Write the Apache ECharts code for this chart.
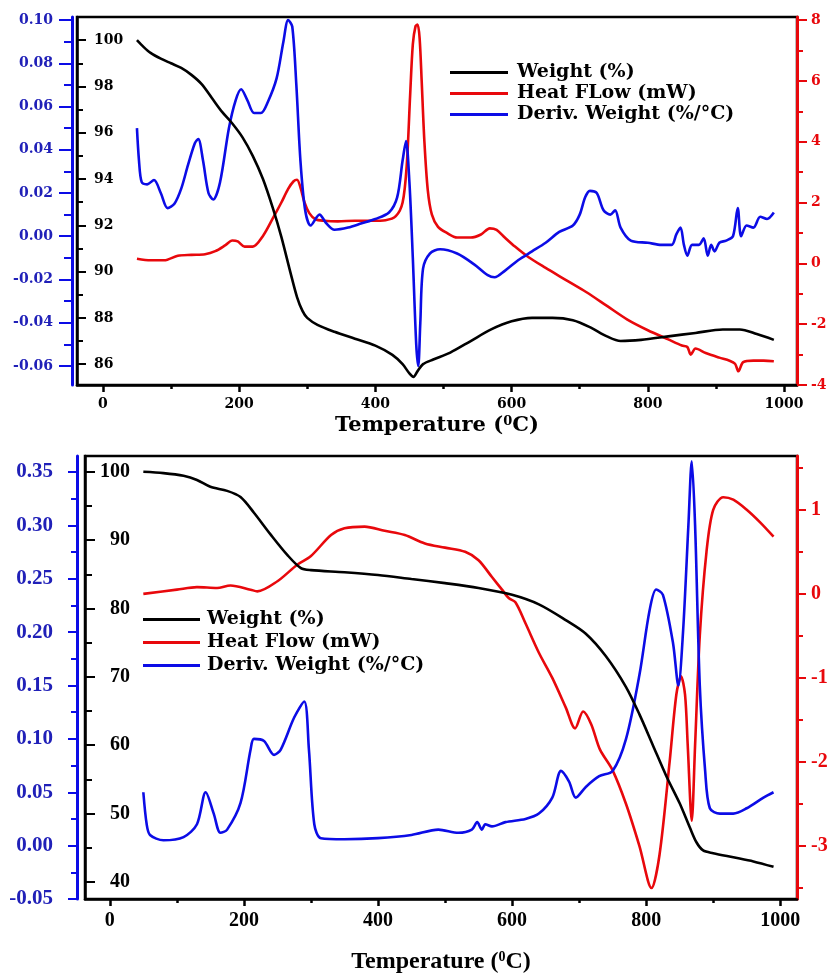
<!DOCTYPE html>
<html>
<head>
<meta charset="utf-8">
<script src="https://cdn.jsdelivr.net/npm/echarts@6/dist/echarts.min.js"></script>
<style>
html, body { margin: 0; padding: 0; background: #fff; }
#chart { width: 833px; height: 975px; }
</style>
</head>
<body>
<div id="chart"></div>
<script>
// ---- top panel ----
var topWeightT = [50, 60, 70, 85, 100, 115, 130, 145, 160, 175, 190, 205, 220, 235, 250, 262, 275, 285, 293, 300, 315, 340, 370, 400, 425, 440, 450, 456, 462, 470, 485, 510, 540, 570, 600, 630, 660, 690, 715, 740, 760, 790, 830, 870, 910, 935, 960, 985];
var topWeight = [100, 99.7, 99.45, 99.2, 99.0, 98.8, 98.5, 98.1, 97.5, 96.9, 96.4, 95.8, 95.0, 94.0, 92.7, 91.5, 90.0, 88.9, 88.3, 88.0, 87.7, 87.4, 87.1, 86.8, 86.4, 86.0, 85.6, 85.45, 85.7, 86.0, 86.2, 86.5, 87.0, 87.5, 87.85, 88.0, 88.0, 87.9, 87.6, 87.2, 87.0, 87.05, 87.2, 87.35, 87.5, 87.5, 87.3, 87.05];

var topHeatT = [50, 70, 90, 110, 130, 150, 165, 180, 190, 198, 208, 220, 235, 250, 262, 272, 280, 285, 290, 296, 303, 312, 325, 345, 370, 395, 415, 430, 440, 446, 451, 455, 459, 462, 465, 468, 472, 477, 483, 492, 505, 520, 540, 555, 568, 578, 590, 605, 625, 650, 680, 710, 740, 770, 800, 830, 850, 858, 863, 870, 885, 905, 920, 928, 933, 940, 955, 970, 985];
var topHeat = [0.15, 0.1, 0.1, 0.25, 0.28, 0.3, 0.4, 0.6, 0.75, 0.72, 0.55, 0.55, 0.9, 1.5, 2.0, 2.45, 2.7, 2.75, 2.5, 2.0, 1.65, 1.45, 1.4, 1.38, 1.4, 1.4, 1.42, 1.55, 2.0, 3.2, 5.5, 7.2, 7.8, 7.85, 7.4, 6.0, 4.0, 2.4, 1.6, 1.2, 1.0, 0.85, 0.85, 0.95, 1.15, 1.1, 0.85, 0.55, 0.2, -0.15, -0.55, -0.95, -1.4, -1.85, -2.2, -2.5, -2.7, -2.75, -3.0, -2.8, -2.95, -3.1, -3.2, -3.3, -3.55, -3.25, -3.2, -3.2, -3.22];

var topDerivT = [50, 53, 57, 65, 75, 85, 95, 105, 115, 125, 135, 140, 147, 155, 162, 172, 185, 195, 203, 212, 222, 232, 242, 255, 265, 272, 278, 284, 290, 297, 305, 318, 328, 340, 360, 380, 400, 420, 432, 440, 445, 450, 455, 460, 463, 466, 470, 480, 495, 520, 545, 565, 575, 590, 610, 630, 650, 670, 690, 700, 708, 715, 725, 735, 745, 752, 760, 775, 800, 820, 835, 842, 848, 853, 858, 865, 875, 882, 888, 893, 898, 905, 915, 925, 932, 937, 945, 955, 965, 975, 985];
var topDeriv = [0.05, 0.035, 0.025, 0.024, 0.026, 0.02, 0.013, 0.015, 0.022, 0.033, 0.043, 0.045, 0.035, 0.02, 0.017, 0.025, 0.05, 0.063, 0.068, 0.063, 0.057, 0.057, 0.062, 0.073, 0.09, 0.1, 0.097, 0.07, 0.035, 0.012, 0.005, 0.01, 0.006, 0.003, 0.004, 0.006, 0.008, 0.011, 0.018, 0.035, 0.044, 0.025, -0.01, -0.05, -0.06, -0.04, -0.015, -0.008, -0.006, -0.008, -0.013, -0.018, -0.019, -0.016, -0.011, -0.007, -0.003, 0.002, 0.005, 0.01, 0.018, 0.021, 0.02, 0.012, 0.01, 0.012, 0.004, -0.002, -0.003, -0.004, -0.004, 0.001, 0.004, -0.004, -0.009, -0.004, -0.004, -0.001, -0.009, -0.004, -0.007, -0.003, -0.002, 0.0, 0.013, 0.0, 0.005, 0.004, 0.009, 0.008, 0.011];

// ---- bottom panel ----
var botWeightT = [50, 80, 110, 130, 150, 175, 195, 215, 240, 265, 285, 300, 350, 400, 450, 500, 550, 600, 640, 680, 710, 740, 770, 790, 810, 830, 850, 865, 875, 885, 900, 930, 960, 990];
var botWeight = [100, 99.8, 99.4, 98.8, 97.8, 97.2, 96.3, 94.0, 90.8, 87.8, 85.9, 85.6, 85.3, 84.9, 84.3, 83.7, 83.0, 82.0, 80.6, 78.3, 76.3, 73.0, 68.5, 64.5, 60.0, 55.5, 51.5, 48.0, 45.8, 44.6, 44.2, 43.6, 43.0, 42.2];

var botHeatT = [50, 100, 130, 160, 180, 210, 220, 250, 280, 300, 330, 350, 380, 410, 440, 470, 500, 530, 550, 570, 585, 595, 605, 620, 640, 660, 680, 694, 706, 718, 731, 750, 770, 790, 808, 820, 835, 845, 852, 858, 862, 868, 873, 880, 890, 900, 915, 930, 950, 970, 990];
var botHeat = [0.0, 0.05, 0.08, 0.07, 0.1, 0.05, 0.03, 0.15, 0.35, 0.45, 0.7, 0.78, 0.8, 0.75, 0.7, 0.6, 0.55, 0.5, 0.4, 0.2, 0.05, -0.05, -0.1, -0.35, -0.7, -1.0, -1.35, -1.6, -1.4, -1.55, -1.85, -2.1, -2.5, -3.0, -3.5, -3.1, -2.0, -1.2, -0.98, -1.2, -1.8, -2.7, -1.8, -0.5, 0.5, 1.0, 1.15, 1.12, 1.0, 0.85, 0.68];

var botDerivT = [50, 55, 60, 80, 110, 130, 143, 155, 165, 175, 195, 210, 215, 230, 245, 255, 275, 290, 297, 305, 315, 350, 400, 450, 490, 520, 540, 548, 555, 560, 570, 590, 620, 640, 660, 673, 685, 695, 710, 730, 750, 770, 790, 805, 815, 825, 840, 848, 855, 863, 868, 873, 880, 888, 895, 910, 930, 950, 975, 990];
var botDeriv = [0.05, 0.02, 0.01, 0.005, 0.008, 0.02, 0.05, 0.03, 0.012, 0.015, 0.04, 0.09, 0.1, 0.098, 0.085, 0.09, 0.12, 0.135, 0.09, 0.02, 0.007, 0.006, 0.007, 0.01, 0.015, 0.012, 0.015, 0.022, 0.015, 0.02, 0.018, 0.022, 0.025, 0.03, 0.045, 0.07, 0.06, 0.045, 0.055, 0.065, 0.07, 0.1, 0.16, 0.22, 0.24, 0.235, 0.19, 0.15, 0.2, 0.3, 0.36, 0.3, 0.15, 0.07, 0.035, 0.03, 0.03, 0.035, 0.045, 0.05];

// tick labels (major) and minor tick positions
var xLabels = [0, 200, 400, 600, 800, 1000];
var xMinor = [100, 300, 500, 700, 900];
var topWeightLabels = [86, 88, 90, 92, 94, 96, 98, 100];
var topWeightMinor = [87, 89, 91, 93, 95, 97, 99];
var topDerivLabels = [-0.06, -0.04, -0.02, 0.00, 0.02, 0.04, 0.06, 0.08, 0.10];
var topDerivMinor = [-0.05, -0.03, -0.01, 0.01, 0.03, 0.05, 0.07, 0.09];
var topHeatLabels = [-4, -2, 0, 2, 4, 6, 8];
var topHeatMinor = [-3, -1, 1, 3, 5, 7];
var botWeightLabels = [40, 50, 60, 70, 80, 90, 100];
var botWeightMinor = [45, 55, 65, 75, 85, 95];
var botDerivLabels = [-0.05, 0.00, 0.05, 0.10, 0.15, 0.20, 0.25, 0.30, 0.35];
var botDerivMinor = [-0.025, 0.025, 0.075, 0.125, 0.175, 0.225, 0.275, 0.325];
var botHeatLabels = [-3, -2, -1, 0, 1];
var botHeatMinor = [-3.5, -2.5, -1.5, -0.5, 0.5, 1.5];

var WIDE = '"DejaVu Serif", serif';
var TIMES = '"Liberation Serif", "DejaVu Serif", serif';
var BLACK = '#000000';
var RED = '#e8080c';
var BLUE = '#0c0ce6';
var BLUE_TXT = '#2020b8';

function pairs(t, v) {
    var out = [];
    for (var i = 0; i < t.length; i++) out.push([t[i], v[i]]);
    return out;
}

var fmt2 = function (v) { return Number(v).toFixed(2); };
var fmt0 = function (v) { return String(Math.round(v)); };

// c: {grid, color, pos, offset, min, max, labels, minor, inside, font, size, margin, len, minorLen, fmt, lineW, align}
function yPair(c) {
    var label = {
        show: true, inside: c.inside, customValues: c.labels, margin: c.margin,
        color: c.color === BLUE ? BLUE_TXT : c.color,
        fontFamily: c.font, fontWeight: 'bold', fontSize: c.size,
        formatter: c.fmt
    };
    if (c.align) label.align = c.align;
    var main = {
        type: 'value', gridIndex: c.grid, position: c.pos, offset: c.offset,
        min: c.min, max: c.max,
        splitLine: { show: false },
        axisLine: { show: true, onZero: false, lineStyle: { color: c.color, width: c.lineW } },
        axisTick: { show: true, inside: c.inside, length: c.len, customValues: c.labels, lineStyle: { color: c.color, width: 2 } },
        axisLabel: label
    };
    var minor = {
        type: 'value', gridIndex: c.grid, position: c.pos, offset: c.offset,
        min: c.min, max: c.max,
        splitLine: { show: false },
        axisLine: { show: false, onZero: false },
        axisTick: { show: true, inside: c.inside, length: c.minorLen, customValues: c.minor, lineStyle: { color: c.color, width: 2 } },
        axisLabel: { show: false }
    };
    return [main, minor];
}

function xPair(grid, min, max, font, size, margin, nameSize, nameGap) {
    var main = {
        type: 'value', gridIndex: grid, position: 'bottom', min: min, max: max,
        splitLine: { show: false },
        axisLine: { show: true, onZero: false, lineStyle: { color: BLACK, width: 2.5 } },
        axisTick: { show: true, length: 7, customValues: xLabels, lineStyle: { color: BLACK, width: 2.5 } },
        axisLabel: {
            show: true, customValues: xLabels, margin: margin, color: BLACK,
            fontFamily: font, fontWeight: 'bold', fontSize: size,
            formatter: function (v) { return String(v); }
        },
        name: 'Temperature ({sup|0}C)',
        nameLocation: 'middle',
        nameGap: nameGap,
        nameTextStyle: {
            color: BLACK, fontFamily: font, fontWeight: 'bold', fontSize: nameSize,
            rich: { sup: { fontSize: Math.round(nameSize * 0.6), fontFamily: font, fontWeight: 'bold', verticalAlign: 'top', lineHeight: nameSize } }
        }
    };
    var minor = {
        type: 'value', gridIndex: grid, position: 'bottom', min: min, max: max,
        splitLine: { show: false },
        axisLine: { show: false, onZero: false },
        axisTick: { show: true, length: 4, customValues: xMinor, lineStyle: { color: BLACK, width: 2.5 } },
        axisLabel: { show: false }
    };
    return [main, minor];
}

function line(name, x, y, data, color) {
    return {
        name: name, type: 'line', xAxisIndex: x, yAxisIndex: y,
        data: data, showSymbol: false, symbol: 'none', smooth: 0.3,
        lineStyle: { color: color, width: 2.6 }, itemStyle: { color: color },
        animation: false
    };
}

var xTop = xPair(0, -38, 1019, WIDE, 14, 12, 21, 30);
var xBot = xPair(1, -37, 1025, TIMES, 20, 12, 24, 51);

var yTW = yPair({ grid: 0, color: BLACK, pos: 'left', offset: 0, min: 85.1, max: 101, labels: topWeightLabels, minor: topWeightMinor, inside: true, font: WIDE, size: 14, margin: 17, len: 9, minorLen: 6, fmt: fmt0, lineW: 2.5 });
var yTH = yPair({ grid: 0, color: RED, pos: 'right', offset: 0, min: -4, max: 8.1, labels: topHeatLabels, minor: topHeatMinor, inside: false, font: WIDE, size: 14, margin: 14, len: 10, minorLen: 6, fmt: fmt0, lineW: 3 });
var yTD = yPair({ grid: 0, color: BLUE, pos: 'left', offset: 5, min: -0.0688, max: 0.1014, labels: topDerivLabels, minor: topDerivMinor, inside: false, font: WIDE, size: 14, margin: 19, len: 13, minorLen: 8, fmt: fmt2, lineW: 3 });
var yBW = yPair({ grid: 1, color: BLACK, pos: 'left', offset: 0, min: 37.5, max: 102.3, labels: botWeightLabels, minor: botWeightMinor, inside: true, font: TIMES, size: 20, margin: 45, len: 10, minorLen: 7, fmt: fmt0, lineW: 2.5, align: 'right' });
var yBH = yPair({ grid: 1, color: RED, pos: 'right', offset: 0, min: -3.63, max: 1.64, labels: botHeatLabels, minor: botHeatMinor, inside: false, font: TIMES, size: 20, margin: 14, len: 9, minorLen: 6, fmt: fmt0, lineW: 3 });
var yBD = yPair({ grid: 1, color: BLUE, pos: 'left', offset: 8, min: -0.05, max: 0.365, labels: botDerivLabels, minor: botDerivMinor, inside: false, font: TIMES, size: 21, margin: 24, len: 9, minorLen: 6, fmt: fmt2, lineW: 3 });

var chart = echarts.init(document.getElementById('chart'));

var option = {
    backgroundColor: '#fff',
    animation: false,
    grid: [
        { left: 77, top: 17, width: 720, height: 368, show: true, borderColor: BLACK, borderWidth: 2.5, backgroundColor: 'transparent' },
        { left: 85, top: 456, width: 712, height: 443, show: true, borderColor: BLACK, borderWidth: 2.5, backgroundColor: 'transparent' }
    ],
    // main axes first (indices used by series), minor-tick axes after
    xAxis: [xTop[0], xBot[0], xTop[1], xBot[1]],
    yAxis: [yTW[0], yTH[0], yTD[0], yBW[0], yBH[0], yBD[0], yTW[1], yTH[1], yTD[1], yBW[1], yBH[1], yBD[1]],
    legend: [
        {
            orient: 'vertical', left: 445, top: 58, itemWidth: 58, itemHeight: 3, itemGap: 2, icon: 'rect',
            data: ['Weight (%)', 'Heat FLow (mW)', 'Deriv. Weight (%/°C)'],
            textStyle: { color: BLACK, fontFamily: WIDE, fontWeight: 'bold', fontSize: 19, padding: [0, 0, 0, 4] },
            selectedMode: false
        },
        {
            orient: 'vertical', left: 138, top: 605, itemWidth: 57, itemHeight: 3, itemGap: 4, icon: 'rect',
            data: ['Weight (%)', 'Heat Flow (mW)', 'Deriv. Weight (%/°C)'],
            textStyle: { color: BLACK, fontFamily: WIDE, fontWeight: 'bold', fontSize: 19, padding: [0, 0, 0, 2] },
            selectedMode: false
        }
    ],
    series: [
        line('Heat FLow (mW)', 0, 1, pairs(topHeatT, topHeat), RED),
        line('Deriv. Weight (%/°C)', 0, 2, pairs(topDerivT, topDeriv), BLUE),
        line('Weight (%)', 0, 0, pairs(topWeightT, topWeight), BLACK),
        line('Heat Flow (mW)', 1, 4, pairs(botHeatT, botHeat), RED),
        line('Deriv. Weight (%/°C)', 1, 5, pairs(botDerivT, botDeriv), BLUE),
        line('Weight (%)', 1, 3, pairs(botWeightT, botWeight), BLACK)
    ]
};

chart.setOption(option);
</script>
</body>
</html>
